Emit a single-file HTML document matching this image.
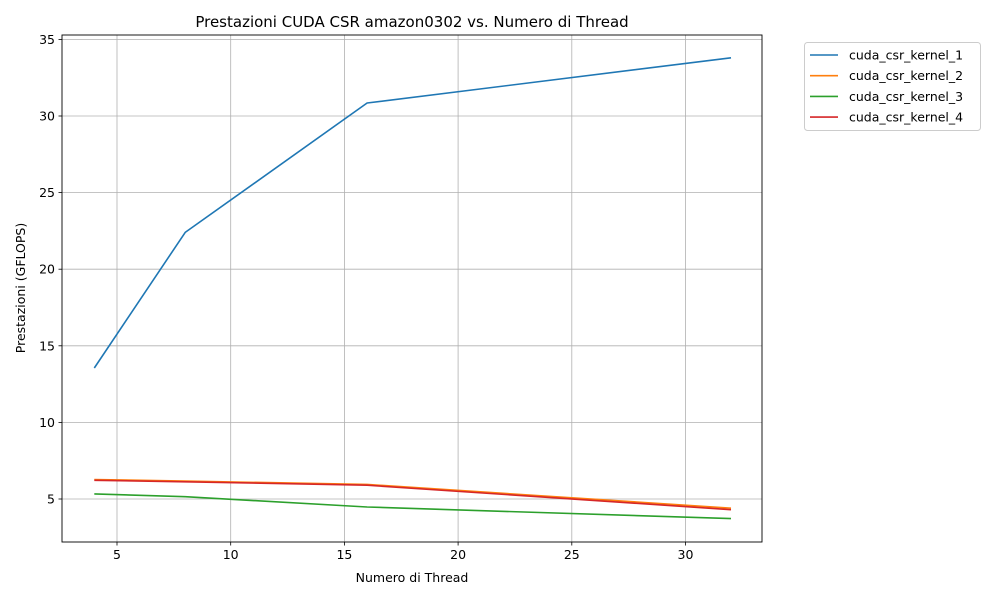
<!DOCTYPE html>
<html><head><meta charset="utf-8"><style>
body{margin:0;background:#fff;font-family:"Liberation Sans","DejaVu Sans",sans-serif;}
svg text{font-family:"DejaVu Sans","Liberation Sans",sans-serif;}
</style></head><body>
<svg id="chart" width="1000" height="600" xmlns="http://www.w3.org/2000/svg"></svg>
<script>
const threads = [4, 8, 16, 32];
const kernel1 = [13.55, 22.4, 30.85, 33.8];
const kernel2 = [6.27, 6.17, 5.95, 4.4];
const kernel3 = [5.33, 5.15, 4.48, 3.72];
const kernel4 = [6.22, 6.12, 5.9, 4.3];
const seriesNames = ["cuda_csr_kernel_1","cuda_csr_kernel_2","cuda_csr_kernel_3","cuda_csr_kernel_4"];
const xTicks = [5, 10, 15, 20, 25, 30];
const yTicks = [5, 10, 15, 20, 25, 30, 35];

const svg = document.getElementById('chart');
const NS = 'http://www.w3.org/2000/svg';
const L = 62, R = 762, T = 35, B = 542;
function xs(v){ return 117 + (v - 5) * 22.74; }
function ys(v){ return 499 - (v - 5) * 15.32; }
function mk(tag, attrs, parent){ const e = document.createElementNS(NS, tag); for (const k in attrs) e.setAttribute(k, attrs[k]); (parent||svg).appendChild(e); return e; }

const grid = mk('g', {});


xTicks.forEach(t => {
  const x = xs(t);
  mk('line', {x1:x, x2:x, y1:T, y2:B, stroke:'#b0b0b0', 'stroke-width':0.8}, grid);
  mk('line', {x1:x, x2:x, y1:B, y2:B+3.5, stroke:'#000', 'stroke-width':0.8}, grid);
  const tx = mk('text', {x:x, y:B+17, 'font-size':12.5, 'text-anchor':'middle', fill:'#000'});
  tx.textContent = t;
  
  
});
yTicks.forEach(t => {
  const y = ys(t);
  mk('line', {x1:L, x2:R, y1:y, y2:y, stroke:'#b0b0b0', 'stroke-width':0.8}, grid);
  mk('line', {x1:L-3.5, x2:L, y1:y, y2:y, stroke:'#000', 'stroke-width':0.8}, grid);
  const tx = mk('text', {x:L-7, y:y+4.5, 'font-size':12.5, 'text-anchor':'end', fill:'#000'});
  tx.textContent = t;
  
  
});

const colors = ['#1f77b4','#ff7f0e','#2ca02c','#d62728'];
const allSeries = [kernel1, kernel2, kernel3, kernel4];
allSeries.forEach((s, i) => {
  const d = s.map((v, j) => (j ? 'L' : 'M') + xs(threads[j]).toFixed(1) + ' ' + ys(v).toFixed(1)).join(' ');
  const p = mk('path', {d:d, fill:'none', stroke:colors[i], 'stroke-width':1.6, 'stroke-linejoin':'round'});
  
  
});

const frame = mk('rect', {x:L, y:T, width:R-L, height:B-T, fill:'none', stroke:'#000', 'stroke-width':0.9});



const title = mk('text', {x:412, y:27, 'font-size':15, 'text-anchor':'middle', fill:'#000'});
title.textContent = 'Prestazioni CUDA CSR amazon0302 vs. Numero di Thread';



const xt = mk('text', {x:412, y:582, 'font-size':12.5, 'text-anchor':'middle', fill:'#000'});
xt.textContent = 'Numero di Thread';



const yt = mk('text', {x:0, y:0, 'font-size':12.5, 'text-anchor':'middle', fill:'#000', transform:'translate(25,288) rotate(-90)'});
yt.textContent = 'Prestazioni (GFLOPS)';



const lg = mk('g', {});


mk('rect', {x:804.5, y:42.5, width:176, height:88, rx:3, fill:'#fff', stroke:'#ccc', 'stroke-width':1}, lg);
seriesNames.forEach((n, i) => {
  const y = 55 + i * 20.7;
  mk('line', {x1:810, x2:838, y1:y, y2:y, stroke:colors[i], 'stroke-width':1.6}, lg);
  const tx = mk('text', {x:849, y:y+4.5, 'font-size':12.5, fill:'#000'}, lg);
  tx.textContent = n;
  
  
});
</script>
</body></html>
